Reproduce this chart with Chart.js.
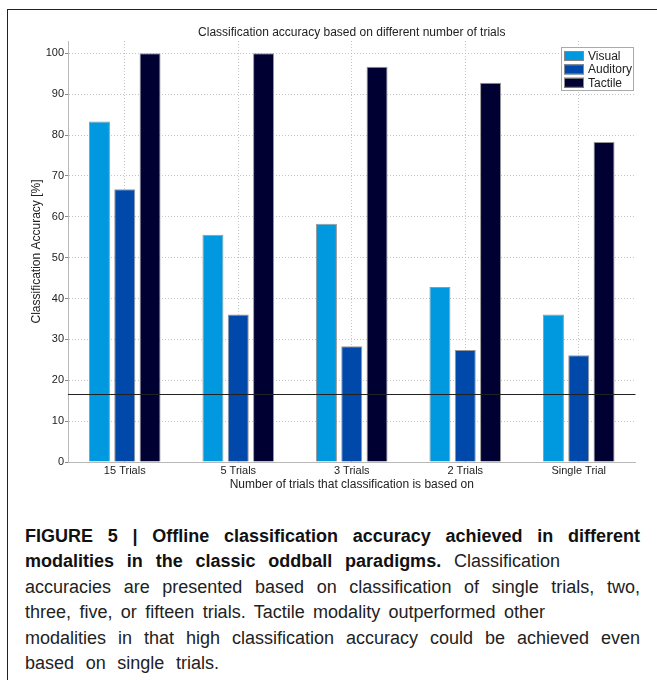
<!DOCTYPE html>
<html>
<head>
<meta charset="utf-8">
<script src="https://cdn.jsdelivr.net/npm/chart.js@4.4.1/dist/chart.umd.min.js"></script>
<style>
  html, body { margin: 0; padding: 0; background: #fff; }
  body { width: 657px; height: 680px; position: relative; overflow: hidden; font-family: "Liberation Sans", Arial, Helvetica, sans-serif; }
  #frame { position: absolute; left: 7px; top: 9px; right: -5px; bottom: -5px; border-top: 1.5px solid #222; border-left: 1.5px solid #222; }
  #wrap { position: absolute; left: 0; top: 0; width: 657px; height: 500px; }
  .cap { position: absolute; left: 25px; font-size: 18px; line-height: 25.4px; color: #222; white-space: nowrap; text-align: justify; text-align-last: justify; }
  .cap.left { text-align: left; text-align-last: left; }
  .cap b { font-weight: bold; color: #111; }
</style>
</head>
<body>
<div id="frame"></div>
<div id="wrap"><canvas id="c" width="657" height="500"></canvas></div>
<div class="cap" style="top:524px;width:615px"><b>FIGURE 5 | Offline classification accuracy achieved in different</b></div>
<div class="cap" style="top:549.4px;width:535px"><b>modalities in the classic oddball paradigms.</b> Classification</div>
<div class="cap" style="top:574.8px;width:615px">accuracies are presented based on classification of single trials, two,</div>
<div class="cap" style="top:600.2px;width:520px">three, five, or fifteen trials. Tactile modality outperformed other</div>
<div class="cap" style="top:625.6px;width:615px">modalities in that high classification accuracy could be achieved even</div>
<div class="cap" style="top:651px;width:194px">based on single trials.</div>
<script>
// ---- data ----
const categories = ["15 Trials", "5 Trials", "3 Trials", "2 Trials", "Single Trial"];
const seriesNames = ["Visual", "Auditory", "Tactile"];
const visual   = [83.3, 55.6, 58.3, 42.8, 36.1];
const auditory = [66.7, 36.1, 28.3, 27.4, 26.1];
const tactile  = [100, 100, 96.7, 92.8, 78.3];
const chanceLevel = [16.67];
const yTicks = [0, 10, 20, 30, 40, 50, 60, 70, 80, 90, 100];

const colors = ["rgb(0,153,224)", "rgb(0,72,170)", "rgb(0,0,50)"];
const FONT = "'Liberation Sans', Arial, Helvetica, sans-serif";

const chanceLinePlugin = {
  id: 'chanceLine',
  afterDatasetsDraw(chart) {
    const {ctx, chartArea, scales} = chart;
    const y = Math.round(scales.y.getPixelForValue(chanceLevel[0])) + 0.5;
    ctx.save();
    ctx.strokeStyle = '#222';
    ctx.lineWidth = 1.2;
    ctx.beginPath();
    ctx.moveTo(chartArea.left, y);
    ctx.lineTo(chartArea.right, y);
    ctx.stroke();
    ctx.restore();
  }
};

const boxLegendPlugin = {
  id: 'boxLegend',
  afterDraw(chart) {
    const {ctx, chartArea} = chart;
    const ds = chart.data.datasets;
    const bx = 561, by = 47, bw = 72, bh = 43;
    ctx.save();
    ctx.fillStyle = '#fff';
    ctx.fillRect(bx, by, bw, bh);
    ctx.strokeStyle = '#aaa';
    ctx.lineWidth = 1;
    ctx.strokeRect(bx + 0.5, by + 0.5, bw, bh);
    ctx.font = "12px " + FONT;
    ctx.textBaseline = 'middle';
    ds.forEach((d, i) => {
      const cy = by + 9 + i * 13.4;
      ctx.fillStyle = d.backgroundColor;
      ctx.fillRect(bx + 3, cy - 5, 20, 10);
      ctx.strokeStyle = '#888';
      ctx.strokeRect(bx + 3.5, cy - 4.5, 19, 9);
      ctx.fillStyle = '#222';
      ctx.fillText(d.label, bx + 27, cy + 0.5);
    });
    ctx.restore();
  }
};

const gridCol = 'rgba(190,190,190,0.9)';

new Chart(document.getElementById('c'), {
  type: 'bar',
  data: {
    labels: categories,
    datasets: [
      { label: seriesNames[0], data: visual,   backgroundColor: colors[0] },
      { label: seriesNames[1], data: auditory, backgroundColor: colors[1] },
      { label: seriesNames[2], data: tactile,  backgroundColor: colors[2] }
    ].map(d => Object.assign(d, { borderColor: 'rgba(140,140,140,0.9)', borderWidth: 1, categoryPercentage: 0.669, barPercentage: 0.83 }))
  },
  options: {
    responsive: false,
    animation: false,
    events: [],
    layout: { padding: { left: 0, right: 21.5, top: 0, bottom: 0 } },
    plugins: {
      legend: { display: false },
      tooltip: { enabled: false },
      title: {
        display: true,
        fullSize: false,
        text: 'Classification accuracy based on different number of trials',
        color: '#222',
        font: { family: FONT, size: 12, weight: 'normal' },
        padding: { top: 25, bottom: 1.6 }
      }
    },
    scales: {
      x: {
        offset: true,
        grid: { display: true, offset: false, color: gridCol, lineWidth: 1, drawTicks: false },
        border: { display: true, color: '#b8b8b8', width: 1, dash: [1, 2] },
        ticks: { color: '#222', font: { family: FONT, size: 11 }, padding: 2, maxRotation: 0, autoSkip: false },
        title: { display: true, text: 'Number of trials that classification is based on', color: '#222', font: { family: FONT, size: 12 }, padding: { top: 0, bottom: 8.4 } },
        afterFit(s) { s.height = 38; }
      },
      y: {
        min: 0,
        max: 103,
        grid: { color: gridCol, lineWidth: 1, drawTicks: true, tickLength: 3, tickColor: '#888', tickBorderDash: [] },
        border: { display: true, color: '#b8b8b8', width: 1, dash: [1, 2] },
        afterBuildTicks(s) { s.ticks = yTicks.map(v => ({ value: v })); },
        ticks: { color: '#222', font: { family: FONT, size: 11 }, padding: 1 },
        title: { display: true, text: 'Classification Accuracy [%]', color: '#222', font: { family: FONT, size: 12 }, padding: { top: 29.8, bottom: 0 } },
        afterFit(s) { s.width = 68; }
      }
    }
  },
  plugins: [chanceLinePlugin, boxLegendPlugin]
});
</script>
</body>
</html>
